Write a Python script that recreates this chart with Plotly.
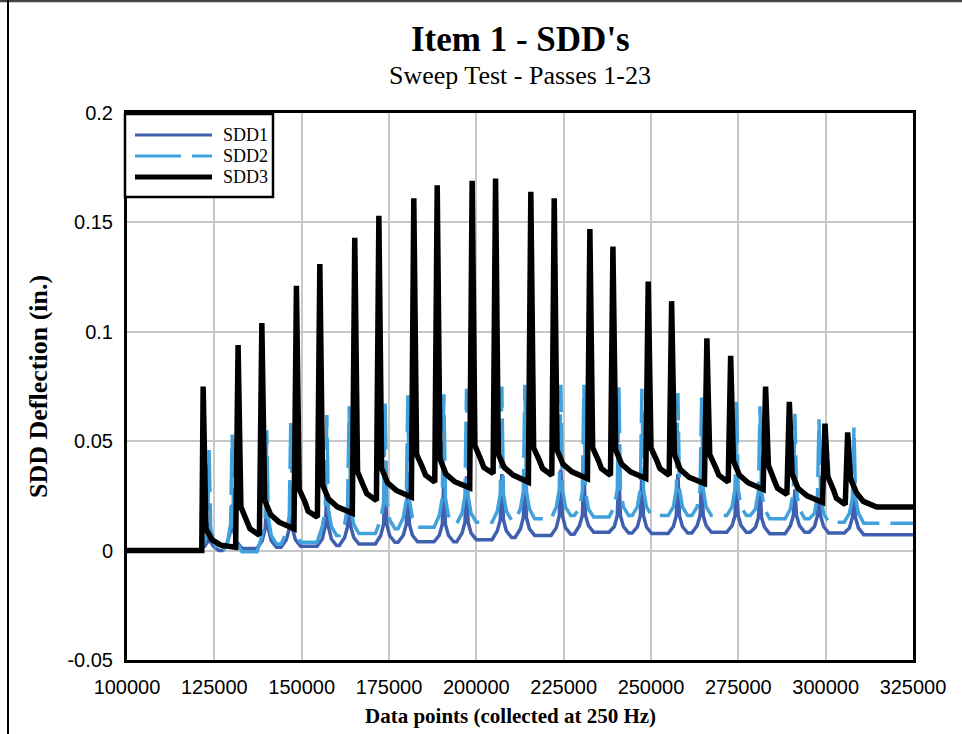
import plotly.graph_objects as go

# ---- sweep test data: one spike per pass (23 passes) ----
# SDD3: peak position/height, then the decay read at +800, +2500, half-way, and just before the next pass
sdd3_peak_x = [121800, 131800, 138600, 148500, 155200, 165200, 172100, 182100, 188800, 198800,
               205500, 215600, 222300, 232500, 239100, 249200, 255900, 266000, 272800, 282800,
               289600, 299800, 306300]
sdd3_peak = [0.075, 0.094, 0.104, 0.121, 0.131, 0.143, 0.153, 0.161, 0.167, 0.169,
             0.170, 0.164, 0.161, 0.147, 0.139, 0.123, 0.114, 0.097, 0.089, 0.075,
             0.068, 0.058, 0.054]
sdd3_knee = [0.010, 0.020, 0.023, 0.028, 0.030, 0.036, 0.0375, 0.044, 0.042, 0.048,
             0.044, 0.047, 0.046, 0.047, 0.046, 0.047, 0.044, 0.044, 0.041, 0.039,
             0.035, 0.034, 0.033]
sdd3_early = [0.005, 0.0135, 0.0165, 0.022, 0.0235, 0.0295, 0.031, 0.038, 0.035, 0.0415,
              0.038, 0.041, 0.0395, 0.041, 0.0395, 0.041, 0.037, 0.038, 0.0345, 0.032,
              0.0285, 0.0275, 0.0265]
sdd3_mid = [0.0025, 0.010, 0.013, 0.018, 0.020, 0.026, 0.0275, 0.0345, 0.0315, 0.038,
            0.0345, 0.0375, 0.036, 0.0375, 0.036, 0.0375, 0.0335, 0.0345, 0.031, 0.0285,
            0.025, 0.024, 0.0225]
sdd3_trough = [0.0015, 0.0070, 0.0100, 0.0153, 0.0171, 0.0229, 0.0245, 0.0313, 0.0287, 0.0352,
               0.0313, 0.0344, 0.0329, 0.0344, 0.0330, 0.0344, 0.0307, 0.0313, 0.0280, 0.0257,
               0.0220, 0.0210, 0.0199]

# SDD2: peak, flank value close to the peak, foot of the spike, floor between passes
sdd2_peak_x = [123500, 130100, 140000, 146900, 157200, 163600, 173900, 180400, 190700, 197200,
               207300, 213900, 224200, 230800, 240800, 247400, 257700, 264500, 274500, 281200,
               291200, 298100, 308100]
sdd2_peak = [0.046, 0.053, 0.055, 0.060, 0.062, 0.066, 0.068, 0.071, 0.0715, 0.074,
             0.075, 0.0758, 0.0758, 0.0758, 0.075, 0.074, 0.072, 0.070, 0.068, 0.066,
             0.0625, 0.060, 0.0565]
sdd2_shoulder = [0.010, 0.012, 0.015, 0.016, 0.019, 0.020, 0.022, 0.023, 0.024, 0.025,
                 0.026, 0.027, 0.028, 0.027, 0.028, 0.028, 0.028, 0.028, 0.028, 0.027,
                 0.027, 0.025, 0.024]
sdd2_foot = [0.004, 0.004, 0.007, 0.008, 0.011, 0.012, 0.014, 0.015, 0.016, 0.017,
             0.018, 0.019, 0.020, 0.019, 0.020, 0.020, 0.020, 0.020, 0.020, 0.019,
             0.019, 0.017, 0.017]
sdd2_trough = [-0.0010, -0.0005, 0.0030, 0.0038, 0.0069, 0.0078, 0.0100, 0.0107, 0.0124, 0.0130,
               0.0138, 0.0145, 0.0160, 0.0153, 0.0160, 0.0160, 0.0160, 0.0160, 0.0160, 0.0145,
               0.0145, 0.0130, 0.0125]

# SDD1 (peaks line up with SDD2)
sdd1_peak_x = sdd2_peak_x
sdd1_peak = [0.006, 0.021, 0.023, 0.025, 0.026, 0.029, 0.031, 0.032, 0.033, 0.034,
             0.035, 0.036, 0.037, 0.037, 0.036, 0.036, 0.035, 0.034, 0.032, 0.030,
             0.028, 0.026, 0.024]
sdd1_shoulder = [0.004, 0.009, 0.010, 0.010, 0.011, 0.011, 0.012, 0.012, 0.012, 0.013,
                 0.014, 0.015, 0.016, 0.016, 0.016, 0.016, 0.016, 0.016, 0.016, 0.015,
                 0.016, 0.016, 0.015]
sdd1_foot = [0.002, 0.004, 0.0045, 0.005, 0.0053, 0.006, 0.0068, 0.007, 0.007, 0.008,
             0.009, 0.0099, 0.0105, 0.0114, 0.011, 0.0108, 0.011, 0.0114, 0.0114, 0.0107,
             0.0114, 0.011, 0.0103]
sdd1_trough = [0.0000, 0.0010, 0.0015, 0.0020, 0.0023, 0.0030, 0.0038, 0.0040, 0.0040, 0.0050,
               0.0060, 0.0069, 0.0075, 0.0084, 0.0080, 0.0078, 0.0080, 0.0084, 0.0084, 0.0077,
               0.0084, 0.0080, 0.0073]

x_ticks = [100000, 125000, 150000, 175000, 200000, 225000, 250000, 275000, 300000, 325000]
y_ticks = [-0.05, 0, 0.05, 0.1, 0.15, 0.2]
y_tick_text = ["-0.05", "0", "0.05", "0.1", "0.15", "0.2"]

X_START, X_END = 100000, 325000


def decay_trace(px, peak, knee, early, mid, trough):
    """Spike followed by a slow decay until the next pass."""
    xs, ys = [X_START, px[0] - 400], [0.0, 0.0]
    n = len(px)
    for i in range(n):
        last = i == n - 1
        nxt = px[i + 1] if not last else px[i] + 9000
        gap = nxt - px[i]
        xs += [px[i], px[i] + 800, px[i] + 2500, px[i] + 0.5 * gap, nxt - 700]
        ys += [peak[i], knee[i], early[i], mid[i], trough[i]]
    xs.append(X_END)
    ys.append(trough[-1])
    return xs, ys


def u_trace(px, peak, shoulder, foot, trough):
    """Thin spike with a U-shaped floor between passes."""
    xs, ys = [X_START, px[0] - 2800], [0.0, 0.0]
    n = len(px)
    for i in range(n):
        xs += [px[i] - 1300, px[i] - 450, px[i], px[i] + 450, px[i] + 1300, px[i] + 2800]
        ys += [foot[i], shoulder[i], peak[i], shoulder[i], foot[i], trough[i]]
        if i < n - 1:
            xs.append(px[i + 1] - 2800)
            ys.append(trough[i])
    xs.append(X_END)
    ys.append(trough[-1])
    return xs, ys


C1, C2, C3 = "#3F5FB0", "#41A1DC", "#000000"
DASH2 = "46px,11px"

x1, y1 = u_trace(sdd1_peak_x, sdd1_peak, sdd1_shoulder, sdd1_foot, sdd1_trough)
x2, y2 = u_trace(sdd2_peak_x, sdd2_peak, sdd2_shoulder, sdd2_foot, sdd2_trough)
x3, y3 = decay_trace(sdd3_peak_x, sdd3_peak, sdd3_knee, sdd3_early, sdd3_mid, sdd3_trough)

fig = go.Figure()
fig.add_trace(go.Scatter(x=x1, y=y1, mode="lines", name="SDD1",
                         line=dict(color=C1, width=3.5)))
fig.add_trace(go.Scatter(x=x2, y=y2, mode="lines", name="SDD2",
                         line=dict(color=C2, width=3.5, dash=DASH2)))
fig.add_trace(go.Scatter(x=x3, y=y3, mode="lines", name="SDD3",
                         line=dict(color=C3, width=5.5)))

SERIF = "Times New Roman, Liberation Serif, serif"
SANS = "Arial, Liberation Sans, sans-serif"

# plot area: x 127..913 px, y 113..660 px
L, R, T, B = 127, 49, 113, 74
W, H = 962, 734
PW, PH = W - L - R, H - T - B


def px_x(p):
    return (p - L) / PW


def px_y(p):
    return (H - B - p) / PH


fig.update_layout(
    width=W, height=H,
    margin=dict(l=L, r=R, t=T, b=B),
    paper_bgcolor="white", plot_bgcolor="white",
    showlegend=False,
    xaxis=dict(range=[X_START, X_END], tickvals=x_ticks, ticktext=[str(v) for v in x_ticks],
               showgrid=True, gridcolor="#C8C8C8", gridwidth=2, zeroline=False,
               showline=True, linecolor="black", linewidth=3, mirror=True,
               tickfont=dict(family=SANS, size=20, color="black"), ticks="", ticklabelstandoff=7),
    yaxis=dict(range=[-0.05, 0.2], tickvals=y_ticks, ticktext=y_tick_text,
               showgrid=True, gridcolor="#C8C8C8", gridwidth=2, zeroline=False,
               showline=True, linecolor="black", linewidth=3, mirror=True,
               tickfont=dict(family=SANS, size=20, color="black"), ticks="", ticklabelstandoff=7),
)

ann = []
ann.append(dict(text="<b>Item 1 - SDD's</b>", x=px_x(520), y=px_y(40), xref="paper", yref="paper",
                showarrow=False, xanchor="center", yanchor="middle",
                font=dict(family=SERIF, size=35, color="black")))
ann.append(dict(text="Sweep Test - Passes 1-23", x=px_x(520), y=px_y(75), xref="paper", yref="paper",
                showarrow=False, xanchor="center", yanchor="middle",
                font=dict(family=SERIF, size=26, color="black")))
ann.append(dict(text="<b>SDD Deflection (in.)</b>", x=px_x(38), y=px_y(387), xref="paper", yref="paper",
                showarrow=False, xanchor="center", yanchor="middle", textangle=-90,
                font=dict(family=SERIF, size=26, color="black")))
ann.append(dict(text="<b>Data points (collected at 250 Hz)</b>", x=px_x(510), y=px_y(716),
                xref="paper", yref="paper", showarrow=False, xanchor="center", yanchor="middle",
                font=dict(family=SERIF, size=21, color="black")))

# legend box
shapes = []
shapes.append(dict(type="rect", xref="paper", yref="paper", x0=px_x(125), x1=px_x(273),
                   y0=px_y(197), y1=px_y(114), line=dict(color="black", width=2.5),
                   fillcolor="white", layer="above"))
legend_items = [("SDD1", C1, 3, "solid", 135), ("SDD2", C2, 3, DASH2, 156), ("SDD3", C3, 5, "solid", 177)]
for name, col, w, dash, yy in legend_items:
    shapes.append(dict(type="line", xref="paper", yref="paper", x0=px_x(135), x1=px_x(212),
                       y0=px_y(yy), y1=px_y(yy), line=dict(color=col, width=w, dash=dash)))
    ann.append(dict(text=name, x=px_x(221), y=px_y(yy), xref="paper", yref="paper",
                    showarrow=False, xanchor="left", yanchor="middle",
                    font=dict(family=SERIF, size=18, color="black")))

# outer frame edges
shapes.append(dict(type="line", xref="paper", yref="paper", x0=px_x(-5), x1=px_x(970),
                   y0=px_y(1), y1=px_y(1), line=dict(color="#444444", width=2.5)))
shapes.append(dict(type="line", xref="paper", yref="paper", x0=px_x(8), x1=px_x(8),
                   y0=px_y(0), y1=px_y(740), line=dict(color="black", width=2)))

fig.update_layout(annotations=ann, shapes=shapes)

fig.write_html("out.html")
